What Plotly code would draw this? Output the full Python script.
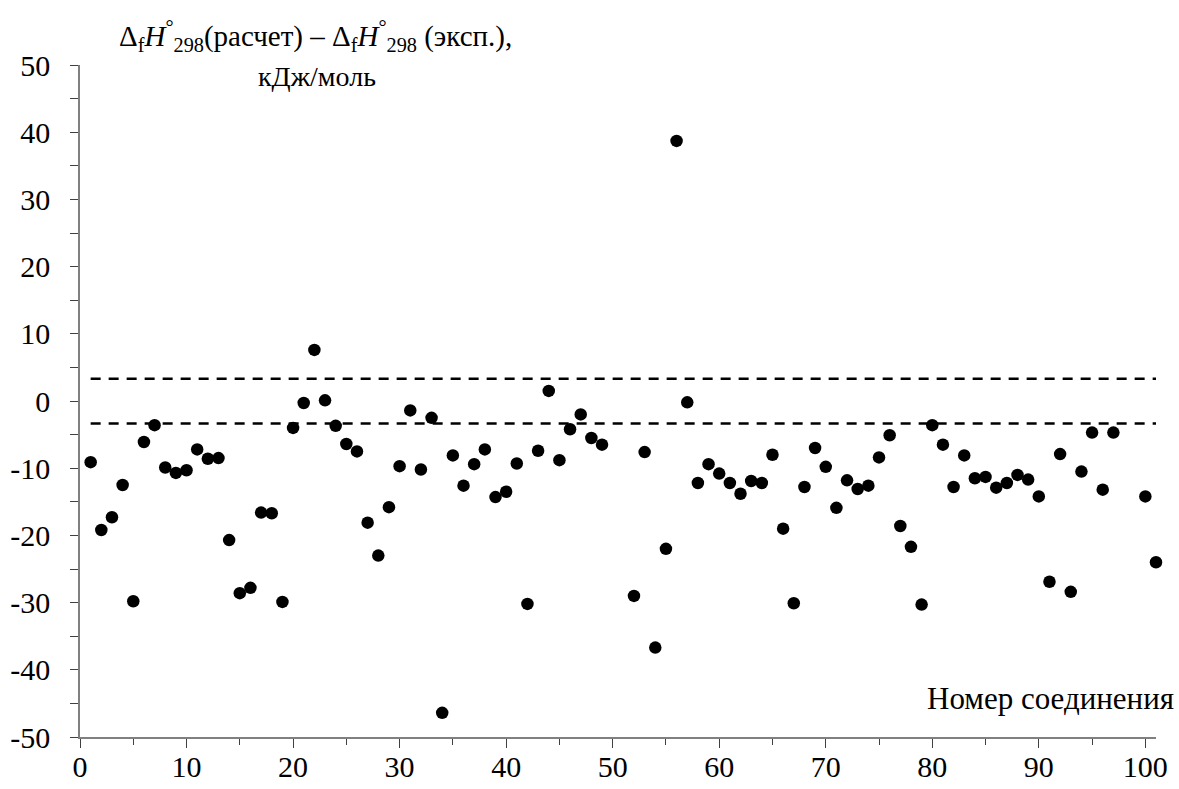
import plotly.graph_objects as go

compound = list(range(1, 50)) + list(range(52, 98)) + [100, 101]
delta = [
    -9.1, -19.2, -17.3, -12.5, -29.8, -6.1, -3.6, -9.9, -10.7, -10.3,
    -7.2, -8.6, -8.5, -20.7, -28.6, -27.8, -16.6, -16.7, -29.9, -4.0,
    -0.3, 7.6, 0.1, -3.7, -6.4, -7.5, -18.1, -23.0, -15.8, -9.7,
    -1.4, -10.2, -2.5, -46.4, -8.1, -12.6, -9.4, -7.2, -14.3, -13.5,
    -9.3, -30.2, -7.4, 1.5, -8.8, -4.2, -2.0, -5.5, -6.5,
    -29.0, -7.6, -36.7, -22.0, 38.7, -0.2, -12.2, -9.4, -10.8, -12.2,
    -13.8, -11.9, -12.2, -8.0, -19.0, -30.1, -12.8, -7.0, -9.8, -15.9,
    -11.8, -13.1, -12.6, -8.4, -5.1, -18.6, -21.7, -30.3, -3.6, -6.5,
    -12.8, -8.1, -11.5, -11.3, -12.9, -12.2, -11.0, -11.7, -14.2, -26.9,
    -7.9, -28.4, -10.5, -4.7, -13.2, -4.7,
    -14.2, -24.0,
]
band_x = [1, 101]
band_upper = [3.3, 3.3]
band_lower = [-3.35, -3.35]

x_ticks = list(range(0, 101, 10))
y_ticks = list(range(-50, 51, 10))

FONT = "Liberation Serif"
W, H = 1179, 789
L, R, T, B = 80, 23, 65, 52
PW, PH = W - L - R, H - T - B

fig = go.Figure()
for yy in (band_upper, band_lower):
    fig.add_trace(go.Scatter(
        x=band_x, y=yy, mode="lines",
        line=dict(color="black", width=2.5, dash="10px,8px"),
        showlegend=False, hoverinfo="skip",
    ))
fig.add_trace(go.Scatter(
    x=compound, y=delta, mode="markers",
    marker=dict(color="black", size=12.5),
    showlegend=False, cliponaxis=False,
))

fig.update_layout(
    width=W, height=H,
    margin=dict(l=L, r=R, t=T, b=B),
    paper_bgcolor="white", plot_bgcolor="white",
    font=dict(family=FONT, size=30, color="black"),
    xaxis=dict(
        range=[0, 101], showgrid=False, zeroline=False, automargin=False,
        showline=True, linecolor="#808080", linewidth=1.5,
        tickmode="array", tickvals=x_ticks, ticktext=[str(v) for v in x_ticks],
        ticks="outside", ticklen=9, tickwidth=1.2, tickcolor="#404040",
        minor=dict(dtick=5, tick0=0, ticks="outside", ticklen=6, tickwidth=1.2, tickcolor="#404040", showgrid=False),
        tickfont=dict(family=FONT, size=30, color="black"),
        ticklabelstandoff=-7,
    ),
    yaxis=dict(
        range=[-50, 50], showgrid=False, zeroline=False, automargin=False,
        showline=True, linecolor="#808080", linewidth=1.5,
        tickmode="array", tickvals=y_ticks, ticktext=[str(v) for v in y_ticks],
        ticks="outside", ticklen=8, tickwidth=1.2, tickcolor="#404040",
        minor=dict(dtick=5, tick0=0, ticks="outside", ticklen=8, tickwidth=1.2, tickcolor="#404040", showgrid=False),
        tickfont=dict(family=FONT, size=30, color="black"),
        ticklabelstandoff=14,
    ),
)

def px(xp):
    return (xp - L) / PW

def py(yp):
    return (H - B - yp) / PH

fig.add_annotation(
    xref="paper", yref="paper", x=px(117), y=py(36),
    xanchor="left", yanchor="middle", showarrow=False,
    text="Δ<sub>f</sub><i>H</i><sup>°</sup><sub>298</sub>(расчет) – Δ<sub>f</sub><i>H</i><sup>°</sup><sub>298</sub> (эксп.),",
    font=dict(family=FONT, size=29, color="black"),
)
fig.add_annotation(
    xref="paper", yref="paper", x=px(317), y=py(76),
    xanchor="center", yanchor="middle", showarrow=False,
    text="кДж/моль", font=dict(family=FONT, size=28, color="black"),
)
fig.add_annotation(
    xref="paper", yref="paper", x=px(1176), y=py(698),
    xanchor="right", yanchor="middle", showarrow=False,
    text="Номер соединения", font=dict(family=FONT, size=31, color="black"),
)

fig.write_html("out.html", config={"displayModeBar": False},
               post_script="document.body.style.margin='0';document.body.style.overflow='hidden';")
